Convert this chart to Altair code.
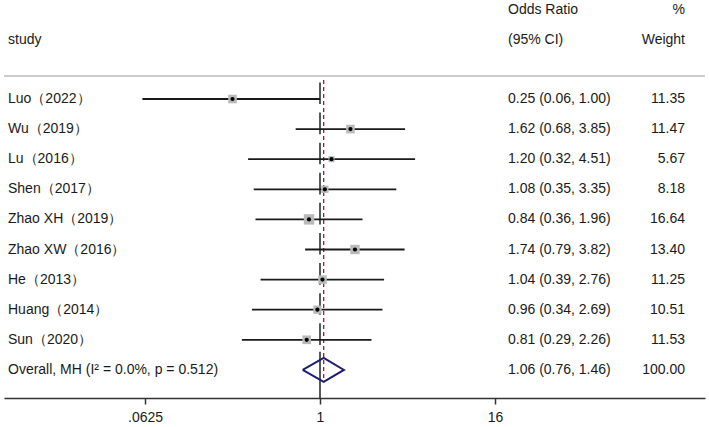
import altair as alt
import pandas as pd

# Study-level results (odds ratio with 95% CI and Mantel-Haenszel weight)
studies = ["Luo（2022）", "Wu（2019）", "Lu（2016）", "Shen（2017）", "Zhao XH（2019）",
           "Zhao XW（2016）", "He（2013）", "Huang（2014）", "Sun（2020）"]
odds_ratio = [0.25, 1.62, 1.20, 1.08, 0.84, 1.74, 1.04, 0.96, 0.81]
ci_low = [0.06, 0.68, 0.32, 0.35, 0.36, 0.79, 0.39, 0.34, 0.29]
ci_high = [1.00, 3.85, 4.51, 3.35, 1.96, 3.82, 2.76, 2.69, 2.26]
weight = [11.35, 11.47, 5.67, 8.18, 16.64, 13.40, 11.25, 10.51, 11.53]

# Pooled estimate
overall_label = "Overall, MH (I² = 0.0%, p = 0.512)"
overall_or = 1.06
overall_low = 0.76
overall_high = 1.46
overall_weight = 100.00

axis_ticks = [0.0625, 1, 16]

FONT = "Liberation Sans"
TXT = "#1a1a1a"

n = len(studies)
df = pd.DataFrame({
    "study": studies + [overall_label],
    "or": odds_ratio + [overall_or],
    "lo": ci_low + [overall_low],
    "hi": ci_high + [overall_high],
    "w": weight + [overall_weight],
    "row": list(range(n + 1)),
    "kind": ["study"] * n + ["overall"],
})
df["ci_text"] = [f"{a:.2f} ({b:.2f}, {c:.2f})" for a, b, c in zip(df["or"], df["lo"], df["hi"])]
df["w_text"] = [f"{v:.2f}" for v in df["w"]]

studies_df = df[df.kind == "study"]
overall_df = df[df.kind == "overall"]

# Diamond outline for the pooled estimate
half_h = 0.4
r = n
diamond_df = pd.DataFrame({
    "x": [overall_low, overall_or, overall_high, overall_or, overall_low],
    "row": [r, r - half_h, r, r + half_h, r],
    "ord": [0, 1, 2, 3, 4],
})

# Log2 odds-ratio scale; 1 sits at x=320, one doubling = 43.75 px
x_scale = alt.Scale(type="log", base=2, domain=[2 ** -7.2229, 2 ** 8.8],
                    range=[4, 705], nice=False)
y_bottom = (398 - 99) / 30.1
y_scale = alt.Scale(domain=[-99 / 30.1, y_bottom], range=[0, 398], nice=False, zero=False)

x_axis = alt.Axis(values=axis_ticks, title=None, grid=False,
                  labelExpr="datum.value == 0.0625 ? '.0625' : toString(datum.value)",
                  labelFont=FONT, labelFontSize=14, labelColor=TXT,
                  domainColor="#333333", domainWidth=1.5,
                  tickColor="#333333", tickSize=6, tickWidth=1.5, labelPadding=6)

base = alt.Chart(df)

# Null line at OR = 1, drawn in short segments per row
null_line = alt.Chart(df).transform_calculate(
    y1="datum.kind == 'overall' ? datum.row - 0.6 : datum.row - 0.55",
    y2=f"datum.kind == 'overall' ? {y_bottom} : datum.row + 0.17",
    one="1",
).mark_rule(color="#222222", strokeWidth=1.5).encode(
    x=alt.X("one:Q", scale=x_scale, axis=x_axis),
    y=alt.Y("y1:Q", scale=y_scale, axis=None),
    y2="y2:Q",
)

# Dashed line at the pooled estimate
pooled_line = alt.Chart(overall_df).mark_rule(
    color="#9b1b30", strokeWidth=1.3, strokeDash=[4, 3]
).encode(
    x=alt.X("or:Q", scale=x_scale),
    y=alt.value(80),
    y2=alt.value(380),
)

ci_lines = alt.Chart(studies_df).mark_rule(color="#1a1a1a", strokeWidth=1.8).encode(
    x=alt.X("lo:Q", scale=x_scale),
    x2="hi:Q",
    y=alt.Y("row:Q", scale=y_scale),
)

squares = alt.Chart(studies_df).transform_calculate(
    sz="datum.w * 6.5"
).mark_square(color="#bababa", opacity=1).encode(
    x=alt.X("or:Q", scale=x_scale),
    y=alt.Y("row:Q", scale=y_scale),
    size=alt.Size("sz:Q", scale=None, legend=None),
)

dots = alt.Chart(studies_df).mark_circle(color="#000000", size=18, opacity=1).encode(
    x=alt.X("or:Q", scale=x_scale),
    y=alt.Y("row:Q", scale=y_scale),
)

diamond = alt.Chart(diamond_df).mark_line(color="#1b1f6e", strokeWidth=2).encode(
    x=alt.X("x:Q", scale=x_scale),
    y=alt.Y("row:Q", scale=y_scale),
    order="ord:Q",
)

text_common = dict(font=FONT, fontSize=14, color=TXT, baseline="middle")

study_text = base.mark_text(align="left", **text_common).encode(
    x=alt.value(8), y=alt.Y("row:Q", scale=y_scale), text="study:N")
ci_text = base.mark_text(align="left", **text_common).encode(
    x=alt.value(508), y=alt.Y("row:Q", scale=y_scale), text="ci_text:N")
w_text = base.mark_text(align="right", **text_common).encode(
    x=alt.value(685), y=alt.Y("row:Q", scale=y_scale), text="w_text:N")

header_df = pd.DataFrame({
    "label": ["study", "Odds Ratio", "(95% CI)", "%", "Weight"],
    "col": ["l", "c", "c", "r", "r"],
    "line": [1, 0, 1, 0, 1],
})
hdr = alt.Chart(header_df)
hdr_left = hdr.transform_filter("datum.col == 'l'").mark_text(align="left", **text_common).encode(
    x=alt.value(8), y=alt.value(40), text="label:N")
hdr_ci = hdr.transform_filter("datum.col == 'c'").mark_text(align="left", **text_common).encode(
    x=alt.value(508),
    y=alt.Y("line:Q", scale=alt.Scale(domain=[0, 1], range=[10, 40]), axis=None),
    text="label:N")
hdr_w = hdr.transform_filter("datum.col == 'r'").mark_text(align="right", **text_common).encode(
    x=alt.value(685),
    y=alt.Y("line:Q", scale=alt.Scale(domain=[0, 1], range=[10, 40]), axis=None),
    text="label:N")

separator = alt.Chart(header_df).transform_filter("datum.line == 0").mark_rule(
    color="#c8c8c8", strokeWidth=1.5
).encode(x=alt.value(4), x2=alt.value(705), y=alt.value(76))

chart = alt.layer(
    null_line, pooled_line, ci_lines, squares, dots, diamond,
    study_text, ci_text, w_text,
    separator,
).resolve_scale(y="shared")

headers = alt.layer(hdr_left, hdr_ci, hdr_w).resolve_scale(y="independent")

final = alt.layer(chart, headers).resolve_scale(y="independent").properties(
    width=709, height=398,
    autosize=alt.AutoSizeParams(type="none"),
    padding={"left": 0, "top": 0, "right": 0, "bottom": 29},
    background="white",
).configure_view(stroke=None)

final.save("out.html", embed_options={"renderer": "svg", "actions": False})
